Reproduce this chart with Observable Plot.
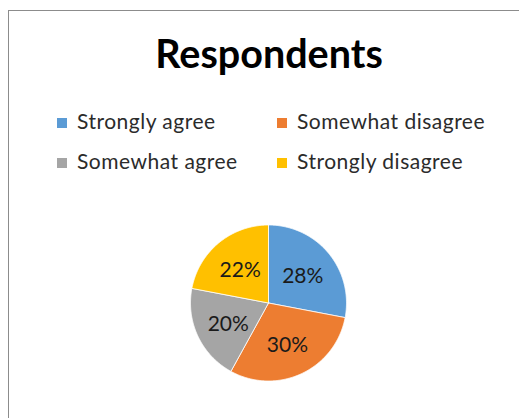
<!DOCTYPE html>
<html>
<head>
<meta charset="utf-8">
<script src="https://cdn.jsdelivr.net/npm/d3@7"></script>
<script src="https://cdn.jsdelivr.net/npm/@observablehq/plot@0.6"></script>
<style>
  html, body { margin: 0; padding: 0; width: 519px; height: 418px; overflow: hidden; background: #fff; }
  #frame { position: absolute; left: 8px; top: 10px; width: 700px; height: 600px;
           border-left: 1px solid #8c8c8c; border-top: 1px solid #8c8c8c; box-sizing: border-box; }
  #title { position: absolute; left: 0; width: 538px; top: 33px; text-align: center;
           font-family: Lato, sans-serif; font-weight: bold; font-size: 39.5px; line-height: 39.5px; color: #000; }
  .sw { position: absolute; width: 10px; height: 10px; }
  .lt { position: absolute; font-family: Lato, sans-serif; font-size: 21px; line-height: 21px; letter-spacing: 0.5px; color: #2b2b2b; white-space: nowrap; }
  #chart { position: absolute; left: 0; top: 210px; }
</style>
</head>
<body>
<div id="frame"></div>
<div id="title">Respondents</div>
<div id="legend"></div>
<div id="chart"></div>
<script>
const categories = ["Strongly agree", "Somewhat disagree", "Somewhat agree", "Strongly disagree"];
const values = [28, 30, 20, 22];
const labels = ["28%", "30%", "20%", "22%"];
const colors = ["#5B9BD5", "#ED7D31", "#A5A5A5", "#FFC000"];

// Legend (2 columns x 2 rows)
const legend = document.getElementById("legend");
const legendPos = [[57, 77, 118.3], [277, 297, 118.3], [57, 77, 158.3], [277, 297, 158.3]];
legendPos.forEach(([sx, tx, sy], ci) => {
  const sw = document.createElement("div");
  sw.className = "sw";
  sw.style.left = sx + "px"; sw.style.top = sy + "px"; sw.style.background = colors[ci];
  legend.appendChild(sw);
  const t = document.createElement("div");
  t.className = "lt";
  t.style.left = tx + "px"; t.style.top = (sy - 8.6) + "px";
  t.textContent = categories[ci];
  legend.appendChild(t);
});

// Pie geometry from the data
const rows = categories.map((c, i) => ({cat: c, value: values[i], label: labels[i]}));
const arcs = d3.pie().sort(null).value(d => d.value)(rows);
const pts = [];
arcs.forEach(a => {
  pts.push({cat: a.data.cat, x: 0, y: 0});
  const n = Math.max(2, Math.ceil((a.endAngle - a.startAngle) / (Math.PI / 360)));
  for (let i = 0; i <= n; i++) {
    const t = a.startAngle + (a.endAngle - a.startAngle) * i / n;
    pts.push({cat: a.data.cat, x: Math.sin(t), y: Math.cos(t)});
  }
  pts.push({cat: a.data.cat, x: 0, y: 0});
});
const labelPts = arcs.map(a => {
  const m = (a.startAngle + a.endAngle) / 2;
  return {label: a.data.label, x: 0.57 * Math.sin(m), y: 0.57 * Math.cos(m)};
});

const W = 519, H = 200;
const cx = 268, cy = 92.5, r = 78;
const plot = Plot.plot({
  width: W, height: H,
  marginLeft: cx - r, marginRight: W - (cx + r),
  marginTop: cy - r, marginBottom: H - (cy + r),
  x: {domain: [-1, 1], axis: null},
  y: {domain: [-1, 1], axis: null},
  color: {domain: categories, range: colors},
  style: {fontFamily: "Lato, sans-serif", background: "transparent", overflow: "visible"},
  marks: [
    Plot.line(pts, {x: "x", y: "y", z: "cat", fill: "cat", stroke: "white", strokeWidth: 0.8, strokeLinejoin: "round"}),
    Plot.text(labelPts, {x: "x", y: "y", text: "label", fontSize: 21, dy: 2, fill: "#1a1a1a"})
  ]
});
document.getElementById("chart").appendChild(plot);
</script>
</body>
</html>
